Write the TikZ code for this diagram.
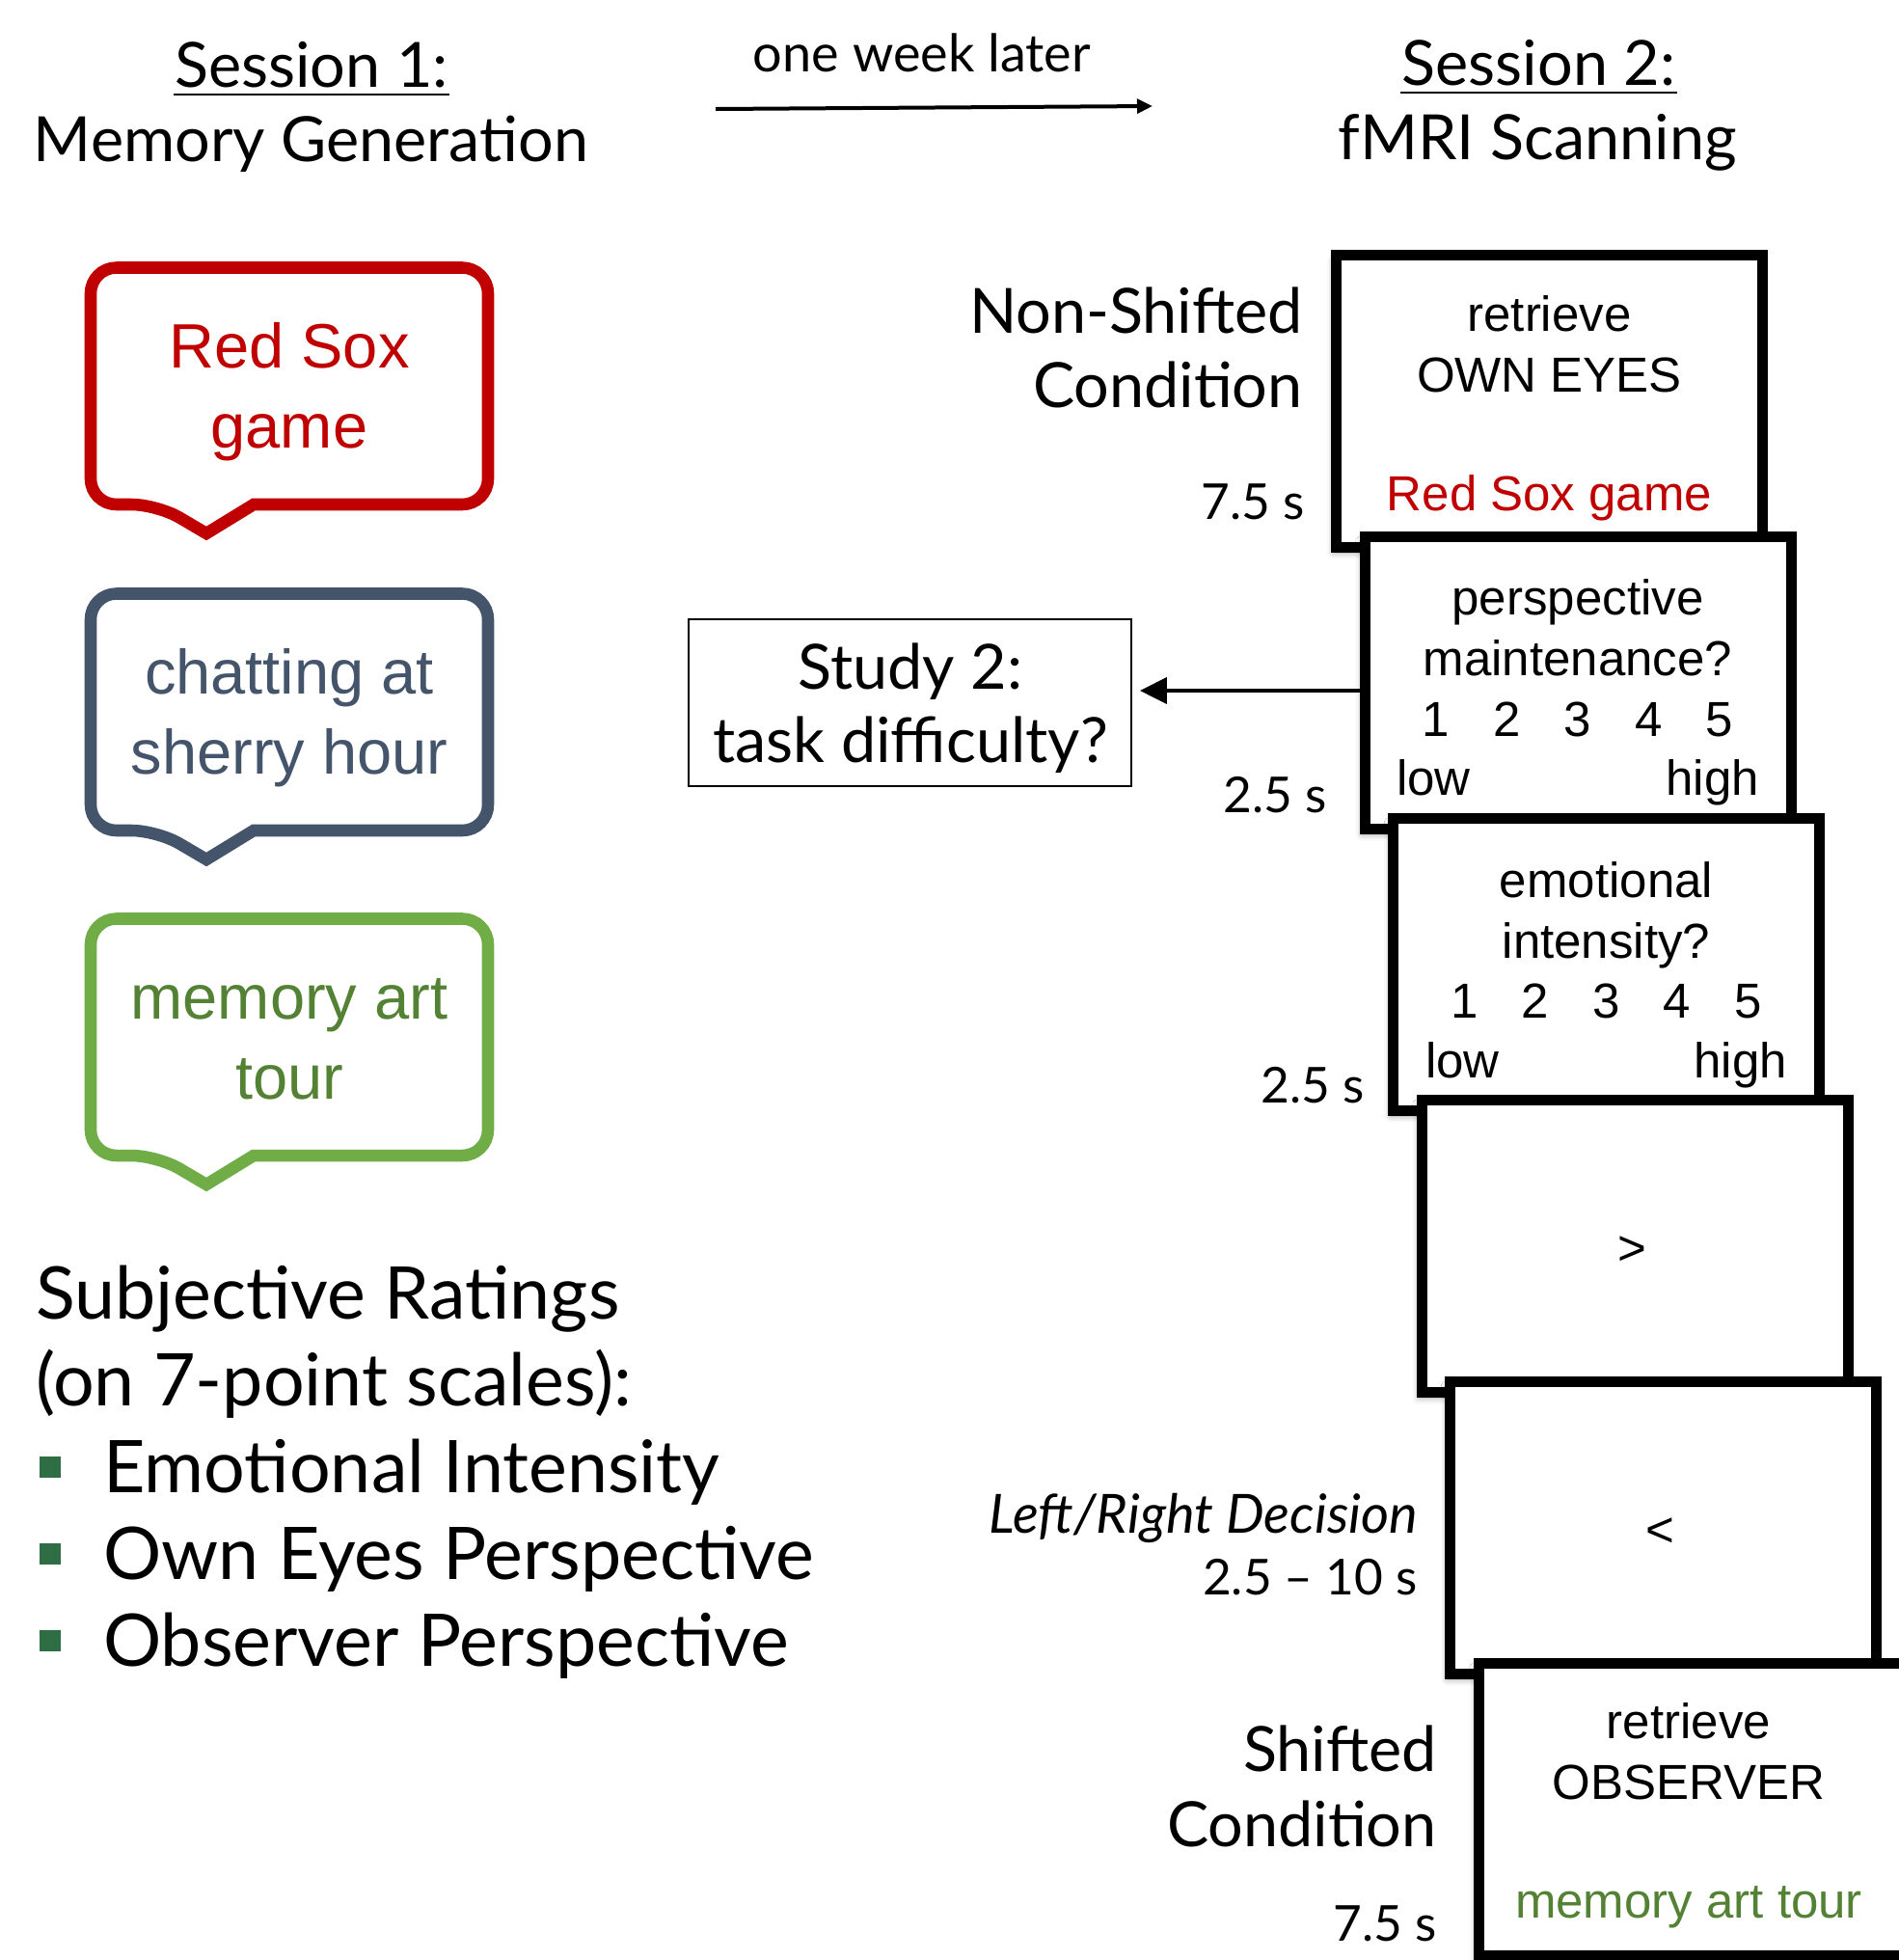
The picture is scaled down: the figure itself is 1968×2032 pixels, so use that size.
\documentclass[tikz,border=0pt]{standalone}
\usepackage{fontspec}
\setmainfont{Lato}
\newfontfamily\arialfont{Liberation Sans}
\usepackage{tikz}
\usetikzlibrary{shadows.blur}
\usetikzlibrary{arrows.meta}
\usetikzlibrary{calc}

\definecolor{soxred}{RGB}{192,0,0}
\definecolor{sherrygray}{RGB}{68,84,106}
\definecolor{tourgreen}{RGB}{112,173,71}
\definecolor{tourtext}{RGB}{84,130,53}
\definecolor{bulletgreen}{RGB}{47,110,68}

\tikzset{
  title/.style={anchor=base, inner sep=0.75pt, font=\fontsize{48.5}{58}\selectfont},
  cond/.style={anchor=base east, inner sep=0.75pt, font=\fontsize{48.5}{58}\selectfont},
  timing/.style={anchor=base east, inner sep=0.75pt, font=\fontsize{38.5}{46}\selectfont},
  rating/.style={anchor=base west, inner sep=0.75pt, font=\fontsize{56.5}{68}\selectfont},
  bubtext/.style={anchor=base, inner sep=0.75pt, font=\arialfont\fontsize{48.75}{58}\selectfont},
  scrtext/.style={anchor=base, inner sep=0.75pt, font=\arialfont\fontsize{38.25}{46}\selectfont},
  bubble/.style={line width=9.4pt, line join=miter, fill=white},
  screen/.style={draw, line width=8.25pt, fill=white, inner sep=0pt,
    minimum width=331.5pt, minimum height=227.25pt,
    blur shadow={shadow xshift=-2pt, shadow yshift=-4pt, shadow blur radius=5pt, shadow opacity=40}},
  ratebullet/.style={fill=bulletgreen, minimum size=16.5pt, inner sep=0pt},
  uline/.style={line width=1.6pt},
}

\begin{document}
\begin{tikzpicture}[x=0.75pt,y=0.75pt,yscale=-1,xscale=1]
\useasboundingbox (0,0) rectangle (1968,2032);

% Session headers
\node [title] (s1) at (323,90) {Session 1:};
\node [title] (s1sub) at (322.5,167) {Memory Generation};
\node [title] (s2) at (1595.5,88) {Session 2:};
\node [title] (s2sub) at (1594,165) {fMRI Scanning};
\draw [uline] ($(s1.base west)+(0,8)$) -- ($(s1.base east)+(0,8)$);
\draw [uline] ($(s2.base west)+(0,8)$) -- ($(s2.base east)+(0,8)$);

% one week later
\node [title, font=\fontsize{40.5}{48}\selectfont] (week) at (956,74) {one week later};
\coordinate (wkstart) at (742,113);
\coordinate (wkend) at (1195,110);
\draw [line width=3pt, -{Triangle[length=12pt,width=11pt]}] (wkstart) -- (wkend);

% Speech bubbles
\draw [bubble, draw=soxred] (300,523) [rounded corners=20pt] -- (506,523) -- (506,277.5) -- (94,277.5) -- (94,523) -- (163,523) [sharp corners] -- (214,553) -- (263,523) -- cycle;
\node [bubtext, soxred] (sox1) at (300,381) {Red Sox};
\node [bubtext, soxred] (sox2) at (300,464) {game};

\draw [bubble, draw=sherrygray] (300,861) [rounded corners=20pt] -- (506,861) -- (506,615.5) -- (94,615.5) -- (94,861) -- (163,861) [sharp corners] -- (214,891) -- (263,861) -- cycle;
\node [bubtext, sherrygray] (sherry1) at (300,719) {chatting at};
\node [bubtext, sherrygray] (sherry2) at (300,802) {sherry hour};

\draw [bubble, draw=tourgreen] (300,1198) [rounded corners=20pt] -- (506,1198) -- (506,952.5) -- (94,952.5) -- (94,1198) -- (163,1198) [sharp corners] -- (214,1228) -- (263,1198) -- cycle;
\node [bubtext, tourtext] (tour1) at (300,1056) {memory art};
\node [bubtext, tourtext] (tour2) at (300,1139) {tour};

% Subjective ratings
\node [rating] (subj) at (36,1367) {Subjective Ratings};
\node [rating] (scale) at (36,1457) {(on 7-point scales):};
\node [ratebullet] (bul1) at (52,1521) {};
\node [rating] (emo) at (106,1547) {Emotional Intensity};
\node [ratebullet] (bul2) at (52,1611) {};
\node [rating] (own) at (106,1637) {Own Eyes Perspective};
\node [ratebullet] (bul3) at (52,1701) {};
\node [rating] (obs) at (106,1727) {Observer Perspective};

% Scanner screens
\node [screen] (b1) at (1606.5,416) {};
\node [scrtext] (b1a) at (1606.5,343) {retrieve};
\node [scrtext] (b1b) at (1606.5,406) {OWN EYES};
\node [scrtext, soxred] (b1c) at (1606.5,529) {Red Sox game};

\node [screen] (b2) at (1636,708) {};
\node [scrtext] (b2a) at (1636,637) {perspective};
\node [scrtext] (b2b) at (1636,700) {maintenance?};
\foreach \n in {1,...,5}
  \node [scrtext] (pm\n) at (1636+73.5*\n-220.5,763) {\n};
\node [scrtext, anchor=base west] (pmlow) at (1447,824) {low};
\node [scrtext, anchor=base east] (pmhigh) at (1825,824) {high};

\node [screen] (b3) at (1665.5,1000) {};
\node [scrtext] (b3a) at (1665.5,930) {emotional};
\node [scrtext] (b3b) at (1665.5,993) {intensity?};
\foreach \n in {1,...,5}
  \node [scrtext] (ei\n) at (1665.5+73.5*\n-220.5,1055) {\n};
\node [scrtext, anchor=base west] (eilow) at (1477,1117) {low};
\node [scrtext, anchor=base east] (eihigh) at (1854,1117) {high};

\node [screen] (b4) at (1695,1292) {};
\node [scrtext, anchor=center] (right) at (1692,1297) {>};
\node [screen] (b5) at (1724.5,1584) {};
\node [scrtext, anchor=center] (left) at (1721,1589) {<};

\node [screen] (b6) at (1754,1876) {};
\node [scrtext] (b6a) at (1751,1802) {retrieve};
\node [scrtext] (b6b) at (1751,1865) {OBSERVER};
\node [scrtext, tourtext] (b6c) at (1751,1988) {memory art tour};

% Condition and timing labels
\node [cond] (nonshift) at (1352,345) {Non-Shifted};
\node [cond] (nonshiftb) at (1352,422) {Condition};
\node [timing] (t1) at (1354,538) {7.5 s};
\node [timing] (t2) at (1377,842) {2.5 s};
\node [timing] (t3) at (1416,1143) {2.5 s};
\node [timing, font=\fontsize{42}{50}\selectfont\itshape] (lrdec) at (1471,1589) {Left/Right Decision};
\node [timing] (t4) at (1471,1653) {2.5 -- 10 s};
\node [cond] (shift) at (1491,1836) {Shifted};
\node [cond] (shiftb) at (1491,1914) {Condition};
\node [timing] (t5) at (1491,2012) {7.5 s};

% Study 2 box
\node [draw, line width=1.5pt, minimum width=344pt, minimum height=130pt, inner sep=0pt] (study) at (943.5,728.5) {};
\node [title] (study1) at (944,714) {Study 2:};
\node [title] (study2) at (944,790) {task difficulty?};
\draw [line width=3.4pt, -{Triangle[length=21pt,width=20pt]}, shorten >=6pt] ($(b2.west)+(0,8)$) -- ($(b2.west -| study.east)+(0,8)$);

\end{tikzpicture}
\end{document}
